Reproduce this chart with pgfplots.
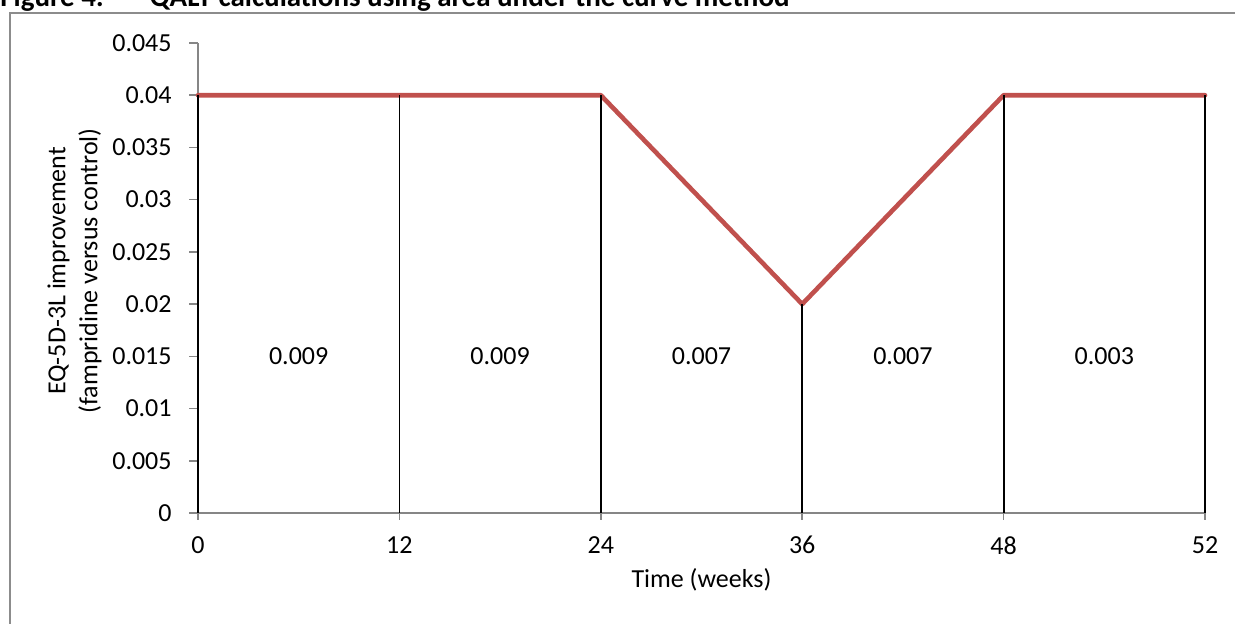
\documentclass[border=0pt]{standalone}
\usepackage{pgfplots}
\pgfplotsset{compat=1.18}
\usepackage{fontspec}
\setmainfont{Carlito}
\definecolor{axgray}{HTML}{868686}
\definecolor{bordergray}{HTML}{8C8C8C}
\definecolor{linered}{HTML}{C0504D}
\begin{document}
\begin{tikzpicture}
\draw[color=bordergray, line width=0.8pt] (5pt,305.5pt) rectangle (630pt,-15pt);
\node[anchor=base west, inner sep=0pt, font=\bfseries\fontsize{14.5}{17}\selectfont] at (0pt,308.5pt) {Figure 4:};
\node[anchor=base east, inner sep=0pt, font=\bfseries\fontsize{14.5}{17}\selectfont] at (395pt,308.5pt) {QALY calculations using area under the curve method};
\begin{axis}[
  at={(99pt,55.5pt)}, anchor=south west,
  scale only axis, width=503.5pt, height=235pt,
  xmin=0, xmax=5, ymin=0, ymax=0.045,
  clip=false,
  axis lines*=left,
  axis line style={draw=axgray, line width=0.8pt, -},
  xtick={0,1,2,3,4,5}, xticklabels={0,12,24,36,48,52},
  ytick={0,0.005,0.01,0.015,0.02,0.025,0.03,0.035,0.04,0.045},
  scaled y ticks=false,
  yticklabel style={/pgf/number format/fixed, /pgf/number format/precision=3},
  /pgf/number format/assume math mode=true,
  tick align=outside,
  tick style={draw=axgray, line width=0.8pt},
  major tick length=4.5pt,
  xtick style={/pgfplots/major tick length=3.5pt},
  tick label style={font=\fontsize{13}{16}\selectfont, inner sep=0pt},
  yticklabel style={anchor=east, xshift=-8.5pt},
  xticklabel style={anchor=north, yshift=-7pt},
  xlabel={Time (weeks)},
  ylabel={EQ-5D-3L improvement\\(fampridine versus control)},
  every axis x label/.style={at={(axis description cs:0.5,-0.1426)}, anchor=center, font=\fontsize{13}{16}\selectfont},
  every axis y label/.style={at={(axis description cs:-0.1225,0.515)}, rotate=90, anchor=center, align=center, font=\fontsize{13}{16}\selectfont},
]
\addplot[linered, line width=2.3pt, line cap=round, line join=round] coordinates {(0,0.04) (1,0.04) (2,0.04) (3,0.02) (4,0.04) (5,0.04)};
\addplot[ycomb, black, line width=0.9pt, mark=none] coordinates {(0,0.04) (1,0.04) (2,0.04) (3,0.02) (4,0.04) (5,0.04)};
\addplot[draw=none, mark=none, nodes near coords, point meta=explicit symbolic,
  every node near coord/.append style={anchor=center, text=black, font=\fontsize{13}{16}\selectfont}]
  coordinates {(0.5,0.015)[0.009] (1.5,0.015)[0.009] (2.5,0.015)[0.007] (3.5,0.015)[0.007] (4.5,0.015)[0.003]};
\end{axis}
\pgfresetboundingbox
\useasboundingbox (0pt,0pt) rectangle (617.5pt,312pt);
\end{tikzpicture}
\end{document}
